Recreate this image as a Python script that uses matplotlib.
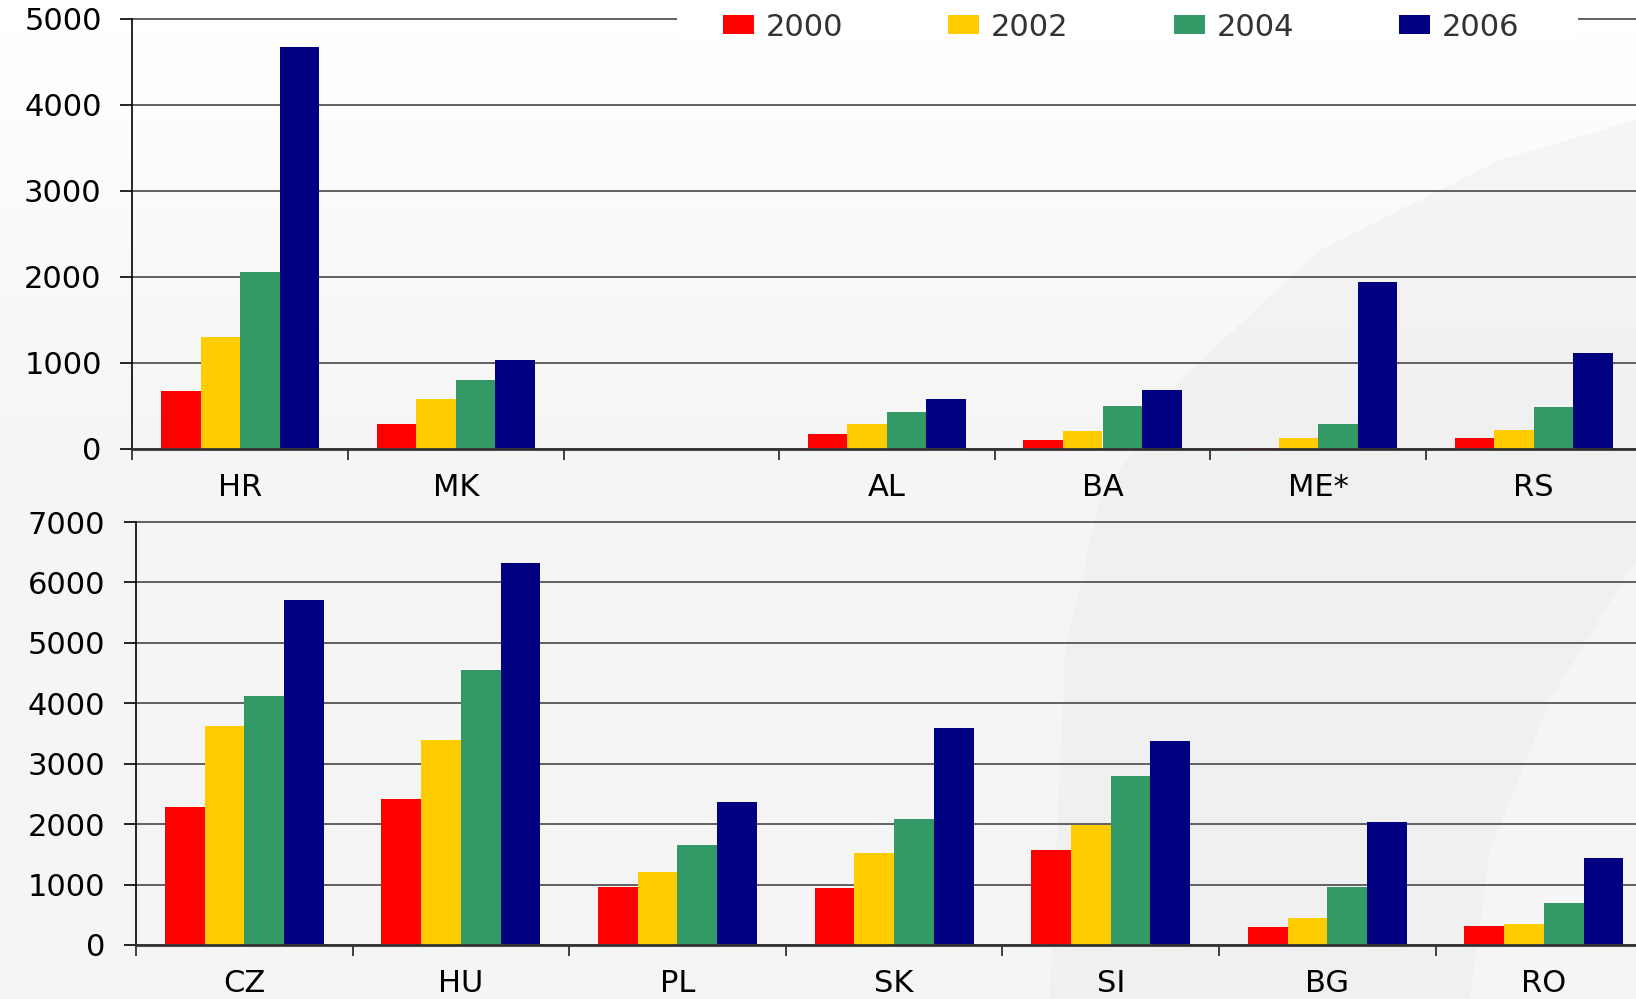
import numpy as np
import matplotlib
matplotlib.use('Agg')
from matplotlib import pyplot as plt
from matplotlib.patches import Polygon, Rectangle

# data
years = ['2000', '2002', '2004', '2006']
colors = ['#ff0000', '#ffcc00', '#339966', '#000080']

top_labels = ['HR', 'MK', '', 'AL', 'BA', 'ME*', 'RS']
top_2000 = [675, 290, 0, 175, 105, 8, 128]
top_2002 = [1300, 580, 0, 290, 210, 128, 220]
top_2004 = [2060, 800, 0, 430, 500, 290, 490]
top_2006 = [4675, 1035, 0, 580, 685, 1940, 1115]

bot_labels = ['CZ', 'HU', 'PL', 'SK', 'SI', 'BG', 'RO']
bot_2000 = [2290, 2410, 960, 945, 1580, 300, 315]
bot_2002 = [3620, 3400, 1210, 1530, 1990, 450, 350]
bot_2004 = [4120, 4550, 1660, 2090, 2790, 960, 700]
bot_2006 = [5710, 6325, 2360, 3590, 3370, 2040, 1445]

plt.rcParams['font.family'] = 'DejaVu Sans'
FS = 22
em = FS * 100 / 72.0

fig = plt.figure(figsize=(16.36, 9.99), dpi=100)

# background: light gradient with a soft swoosh on the right
bg = fig.add_axes([0, 0, 1, 1], zorder=-10)
t = np.linspace(0, 1, 400)
grad = np.clip((t - 0.03) / 0.42, 0, 1)
shade = 1.0 - grad * (1.0 - 0.962)
img = np.repeat(shade[:, None], 2, axis=1)
bg.imshow(np.dstack([img, img, img]), extent=[0, 1636, 999, 0], aspect='auto', interpolation='bilinear')
swoosh = [(1636, 120), (1500, 160), (1320, 250), (1180, 380), (1100, 500), (1065, 650),
          (1050, 999), (1470, 999), (1490, 850), (1550, 700), (1636, 560)]
bg.add_patch(Polygon(swoosh, closed=True, facecolor='#e6e6e6', edgecolor='none', alpha=0.3))
bg.set_xlim(0, 1636)
bg.set_ylim(999, 0)
bg.axis('off')


def draw_panel(rect, labels, series, ymax):
    ax = fig.add_axes(rect)
    ax.set_facecolor('none')
    x = np.arange(len(labels))
    w = 0.1835
    bars = []
    for i, vals in enumerate(series):
        b = ax.bar(x + (i - 1.5) * w, vals, w, color=colors[i], zorder=3, linewidth=0)
        bars.append(b)
    ax.set_xlim(-0.5, len(labels) - 0.5)
    ax.set_ylim(0, ymax)
    ax.set_yticks(np.arange(0, ymax + 1, 1000))
    ax.yaxis.grid(True, color='#555555', linewidth=1.3, zorder=1)
    for gl in ax.get_ygridlines():
        gl.set_clip_on(False)
    ax.set_axisbelow(True)
    ax.set_xticks(x)
    ax.set_xticklabels(labels)
    ax.set_xticks(np.arange(-0.5, len(labels) - 0.5, 1), minor=True)
    ax.tick_params(axis='x', which='major', length=0, pad=17, labelsize=FS)
    ax.tick_params(axis='x', which='minor', length=8, width=1.2, color='#222222', direction='out')
    ax.tick_params(axis='y', length=9, width=1.2, pad=13, labelsize=FS, colors='black')
    for s in ['top', 'right']:
        ax.spines[s].set_visible(False)
    ax.spines['left'].set_color('black')
    ax.spines['left'].set_linewidth(1.2)
    ax.spines['bottom'].set_color('#333333')
    ax.spines['bottom'].set_linewidth(2)
    ax.spines['bottom'].set_zorder(4)
    return ax, bars


ax1, bars = draw_panel([132.3 / 1636, 1 - 449 / 999, 7 * 215.6 / 1636, 430 / 999],
                       top_labels, [top_2000, top_2002, top_2004, top_2006], 5000)
ax2, _ = draw_panel([136 / 1636, 1 - 945 / 999, 7 * 216.6 / 1636, 423 / 999],
                    bot_labels, [bot_2000, bot_2002, bot_2004, bot_2006], 7000)

# white strip behind the legend hides the top gridline there
fig.add_artist(Rectangle((677 / 1636, 1 - 42 / 999), (1578 - 677) / 1636, 42 / 999,
                         transform=fig.transFigure, facecolor='white', edgecolor='none', zorder=2))

leg = fig.legend(bars, years, loc='center', bbox_to_anchor=(1121 / 1636, 1 - 27 / 999),
                 ncol=4, fontsize=FS, frameon=False,
                 handlelength=31 / em, handleheight=18 / em, handletextpad=12 / em,
                 columnspacing=105 / em, borderpad=0.3, borderaxespad=0)
leg.set_zorder(5)
for t in leg.get_texts():
    t.set_color('#333333')

fig.savefig('out.png', dpi=100)
